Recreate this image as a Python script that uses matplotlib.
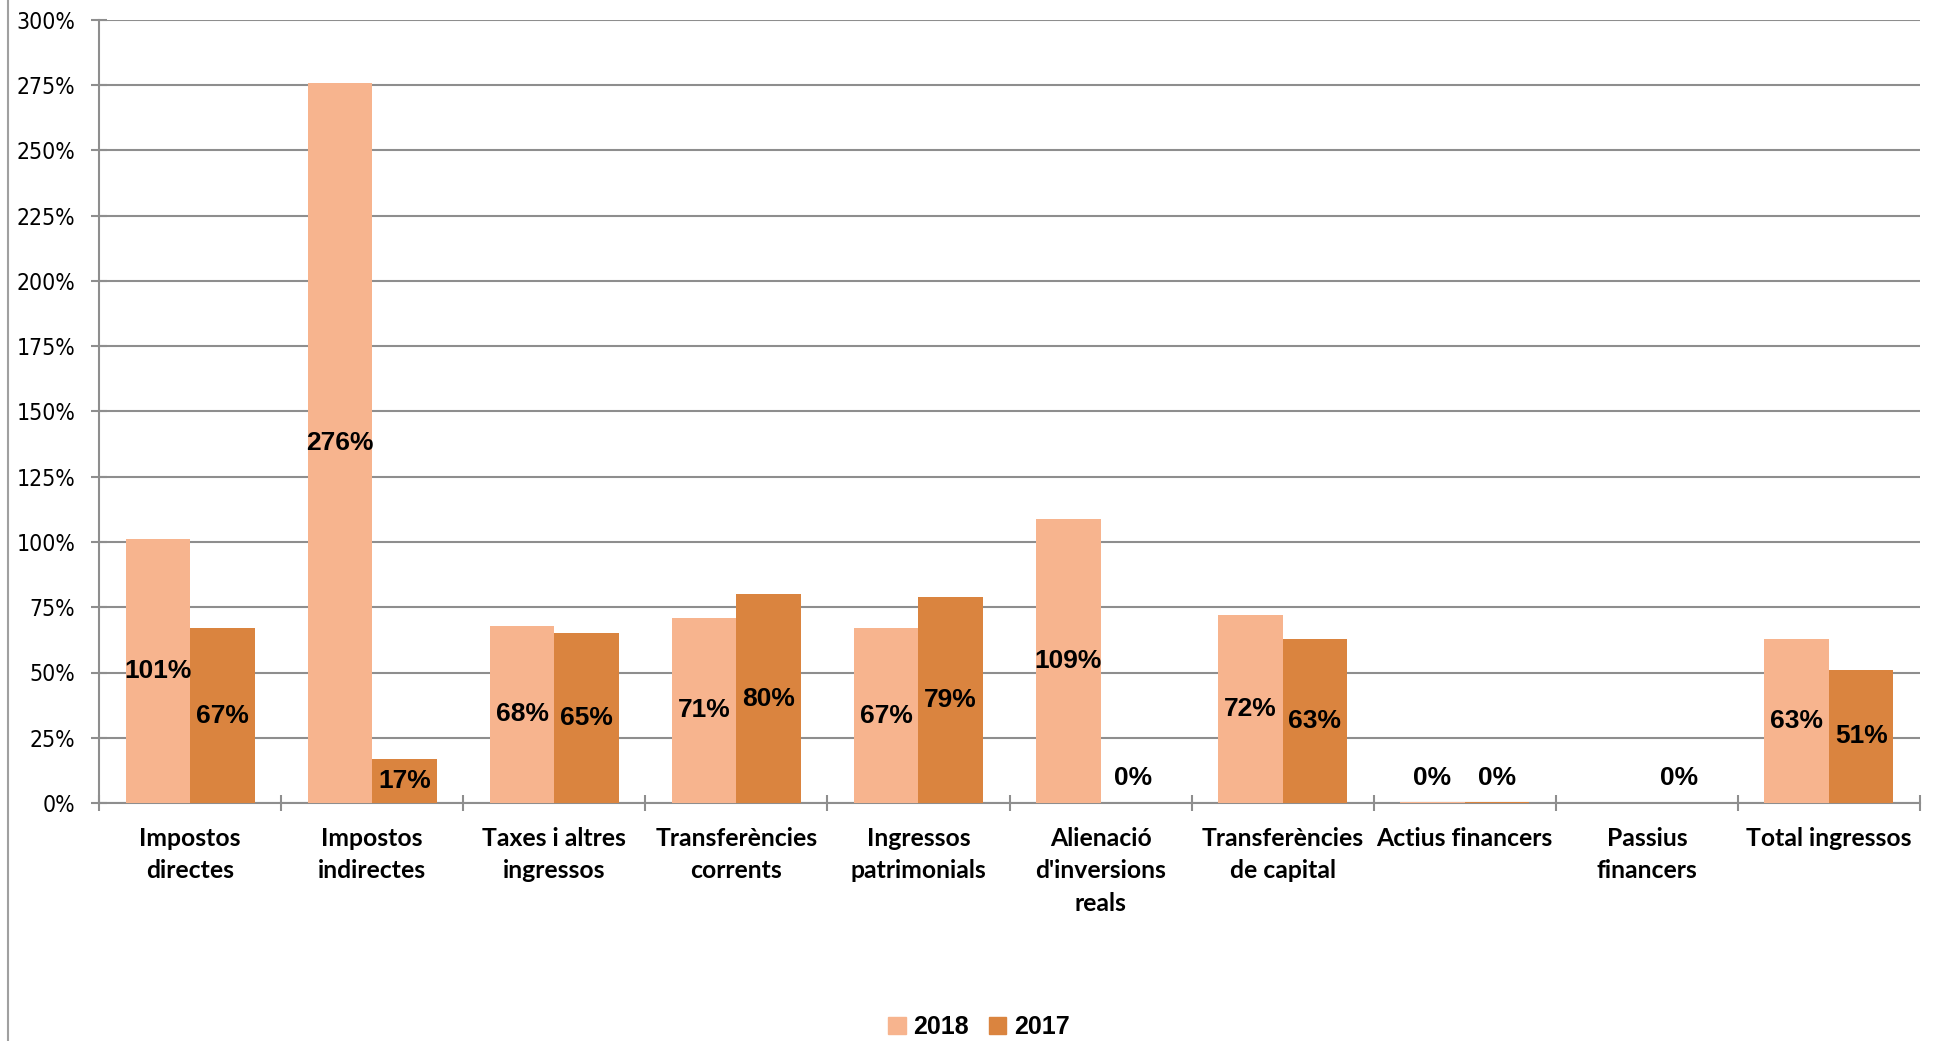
import numpy as np
import matplotlib
matplotlib.use("Agg")
import matplotlib.pyplot as plt
from matplotlib.lines import Line2D
from matplotlib.patches import Patch

categories = ["Impostos\ndirectes", "Impostos\nindirectes", "Taxes i altres\ningressos",
              "Transferències\ncorrents", "Ingressos\npatrimonials", "Alienació\nd'inversions\nreals",
              "Transferències\nde capital", "Actius financers", "Passius\nfinancers", "Total ingressos"]
values_2018 = [101, 276, 68, 71, 67, 109, 72, 0.3, np.nan, 63]
values_2017 = [67, 17, 65, 80, 79, 0, 63, 0.3, 0, 51]
labels_2018 = ["101%", "276%", "68%", "71%", "67%", "109%", "72%", "0%", None, "63%"]
labels_2017 = ["67%", "17%", "65%", "80%", "79%", "0%", "63%", "0%", "0%", "51%"]
series_names = ["2018", "2017"]
yticks = list(range(0, 301, 25))

c18 = "#F7B48E"
c17 = "#DA843F"
grid_c = "#8E8E8E"

W, H = 1938, 1041
fig = plt.figure(figsize=(W / 100, H / 100), dpi=100)
ax = fig.add_axes([99 / W, 1 - 803 / H, (1920 - 99) / W, (803 - 20) / H])

n = len(categories)
x = np.arange(n)
bw = 0.354
b1 = ax.bar(x - bw / 2, values_2018, bw, color=c18, zorder=3)
b2 = ax.bar(x + bw / 2, values_2017, bw, color=c17, zorder=3)

ax.set_xlim(-0.5, n - 0.5)
ax.set_ylim(0, 300)
ax.set_yticks(yticks)
ax.set_yticklabels([f"{t}%" for t in yticks], fontsize=16.5, family="DejaVu Sans",
                   fontstretch="condensed")
ax.yaxis.grid(True, color=grid_c, lw=1.5, zorder=0)
ax.set_axisbelow(True)

ax.set_xticks(x)
ax.set_xticklabels(categories, fontsize=17.8, fontweight="bold", family="Lato",
                   linespacing=1.5)
ax.tick_params(axis="x", which="major", length=0, pad=17)
ax.set_xticks(np.arange(-0.5, n, 1), minor=True)
ax.tick_params(axis="x", which="minor", length=12, direction="inout", color=grid_c, width=1.5)
ax.tick_params(axis="y", length=12, direction="inout", color=grid_c, width=1.5, pad=11)

for s in ["top", "right"]:
    ax.spines[s].set_visible(False)
for s in ["left", "bottom"]:
    ax.spines[s].set_color(grid_c)
    ax.spines[s].set_linewidth(1.5)

lab_kw = dict(fontsize=19, fontweight="bold", family="Liberation Sans", ha="center",
              va="center", zorder=5)
for i in range(n):
    for vals, labs, off in ((values_2018, labels_2018, -bw / 2), (values_2017, labels_2017, bw / 2)):
        lab = labs[i]
        v = vals[i]
        if lab is None:
            continue
        if v is not None and not np.isnan(v) and v >= 5:
            ax.text(x[i] + off, v / 2, lab, **lab_kw)
        else:
            ax.annotate(lab, (x[i] + off, 0), xytext=(0, 18), textcoords="offset points", **lab_kw)

handles = [Patch(color=c18), Patch(color=c17)]
fig.legend(handles, series_names, loc="center", bbox_to_anchor=(0.505, 14 / H), ncol=2,
           frameon=False, prop=dict(family="Liberation Sans", weight="bold", size=18),
           handlelength=0.7, handleheight=0.7, handletextpad=0.3, columnspacing=0.8)

fig.add_artist(Line2D([8 / W, 8 / W], [0, 1], color="#A0A0A0", lw=1.5))

fig.savefig("out.png", dpi=100)
